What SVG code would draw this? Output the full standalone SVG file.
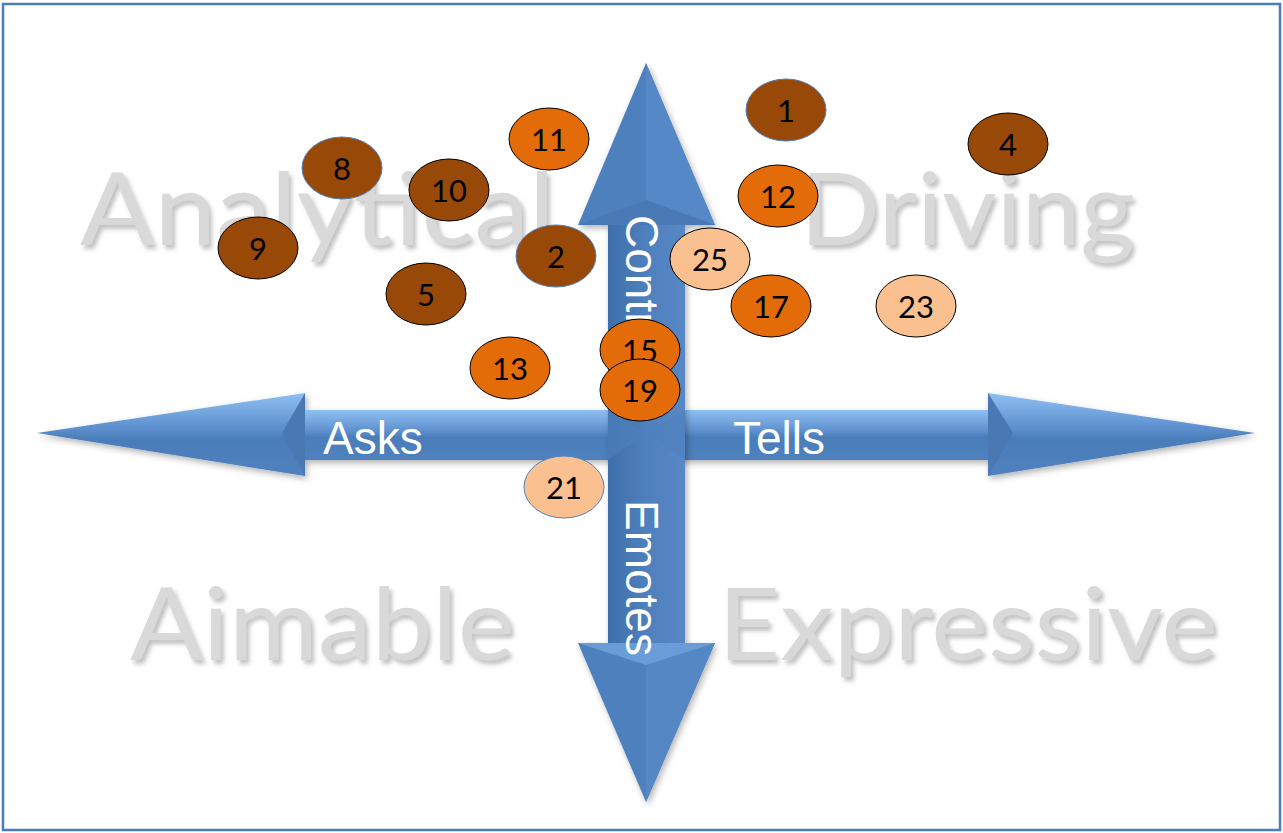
<svg xmlns="http://www.w3.org/2000/svg" width="1283" height="833" viewBox="0 0 1283 833">
<defs>
<filter id="tsh" x="-5%" y="-10%" width="115%" height="130%">
<feDropShadow dx="3" dy="4" stdDeviation="2" flood-color="#9a9a9a" flood-opacity="0.6"/>
</filter>
<filter id="ash" x="-5%" y="-5%" width="115%" height="115%">
<feDropShadow dx="2" dy="3" stdDeviation="3" flood-color="#000" flood-opacity="0.3"/>
</filter>
<linearGradient id="hg" x1="0" y1="0" x2="0" y2="1">
<stop offset="0" stop-color="#8fc0f2"/>
<stop offset="0.45" stop-color="#5a8ccb"/>
<stop offset="0.55" stop-color="#4a7db9"/>
<stop offset="1" stop-color="#4f81bd"/>
</linearGradient>
<linearGradient id="vg" x1="0" y1="0" x2="1" y2="0">
<stop offset="0" stop-color="#3f6fa9"/>
<stop offset="0.5" stop-color="#4e80bd"/>
<stop offset="1" stop-color="#5888c5"/>
</linearGradient>
<style>
.big{font-family:Lato,"Open Sans",sans-serif;font-size:100px;fill:#d9d9d9}
.lbl{font-family:"Liberation Sans",Arial,sans-serif;font-size:46px;fill:#fff}
.num{font-family:Lato,"Open Sans",sans-serif;font-size:31px;fill:#000;text-anchor:middle;dominant-baseline:central}
.dk{fill:#984807}
.or{fill:#e36c09}
.pe{fill:#fac090}
.bk{stroke:#000;stroke-width:1}
.bl{stroke:#4f81bd;stroke-width:1}
</style>
</defs>
<rect x="3" y="4" width="1277" height="826" fill="#fff" stroke="#4a7ebb" stroke-width="2.5"/>
<g id="quadrants" filter="url(#tsh)">
<text class="big" x="80" y="245" textLength="475" lengthAdjust="spacingAndGlyphs">Analytical</text>
<text class="big" x="800" y="245" textLength="335" lengthAdjust="spacingAndGlyphs">Driving</text>
<text class="big" x="130" y="660" textLength="385" lengthAdjust="spacingAndGlyphs">Aimable</text>
<text class="big" x="718" y="660" textLength="500" lengthAdjust="spacingAndGlyphs">Expressive</text>
</g>
<g id="connectors">
<g id="h-arrow" filter="url(#ash)">
<rect x="300" y="410" width="693" height="50" fill="url(#hg)"/>
<polygon points="37,433 305,393 305,476" fill="url(#hg)"/>
<polygon points="305,393 282,433 305,476" fill="#4a78b2"/>
<polygon points="1255,433 988,393 988,476" fill="url(#hg)"/>
<polygon points="988,393 1013,433 988,476" fill="#4a78b2"/>
</g>
<g id="v-arrow" filter="url(#ash)">
<rect x="608" y="220" width="77" height="428" fill="url(#vg)"/>
<polygon points="646,63 578,225 715,225" fill="#4e80bd"/>
<polygon points="646,63 715,225 646,200" fill="#5488c6"/>
<polygon points="578,225 646,200 715,225" fill="#4a7ab5"/>
<polygon points="646,802 578,643 715,643" fill="#4e80bd"/>
<polygon points="646,802 715,643 646,665" fill="#5487c4"/>
<polygon points="578,643 646,665 715,643" fill="#6a9dd8"/>
</g>
<polygon points="608,410 646,433 685,410 685,460 646,433 608,460" fill="#4f81bd" opacity="0.6"/>
<text class="lbl" x="323" y="454">Asks</text>
<text class="lbl" x="733" y="454">Tells</text>
<text class="lbl" transform="translate(626,215) rotate(90)">Control</text>
<text class="lbl" transform="translate(626,500) rotate(90)">Emotes</text>
</g>
<g id="n1"><ellipse cx="786" cy="110" rx="40" ry="31" class="dk bl"/><text class="num" x="786" y="110">1</text></g>
<g id="n4"><ellipse cx="1008" cy="144" rx="40" ry="31" class="dk bk"/><text class="num" x="1008" y="144">4</text></g>
<g id="n8"><ellipse cx="342" cy="168" rx="40" ry="31" class="dk bl"/><text class="num" x="342" y="168">8</text></g>
<g id="n10"><ellipse cx="449" cy="190" rx="40" ry="31" class="dk bk"/><text class="num" x="449" y="190">10</text></g>
<g id="n11"><ellipse cx="549" cy="139" rx="40" ry="31" class="or bk"/><text class="num" x="549" y="139">11</text></g>
<g id="n12"><ellipse cx="778" cy="196" rx="40" ry="31" class="or bk"/><text class="num" x="778" y="196">12</text></g>
<g id="n9"><ellipse cx="258" cy="248" rx="40" ry="31" class="dk bk"/><text class="num" x="258" y="248">9</text></g>
<g id="n2"><ellipse cx="556" cy="256" rx="40" ry="31" class="dk bl"/><text class="num" x="556" y="256">2</text></g>
<g id="n25"><ellipse cx="710" cy="259" rx="40" ry="31" class="pe bk"/><text class="num" x="710" y="259">25</text></g>
<g id="n5"><ellipse cx="426" cy="294" rx="40" ry="31" class="dk bk"/><text class="num" x="426" y="294">5</text></g>
<g id="n17"><ellipse cx="771" cy="306" rx="40" ry="31" class="or bk"/><text class="num" x="771" y="306">17</text></g>
<g id="n23"><ellipse cx="916" cy="306" rx="40" ry="31" class="pe bk"/><text class="num" x="916" y="306">23</text></g>
<g id="n13"><ellipse cx="510" cy="368" rx="40" ry="31" class="or bk"/><text class="num" x="510" y="368">13</text></g>
<g id="n15"><ellipse cx="640" cy="350" rx="40" ry="31" class="or bk"/><text class="num" x="640" y="350">15</text></g>
<g id="n19"><ellipse cx="640" cy="390" rx="40" ry="31" class="or bk"/><text class="num" x="640" y="390">19</text></g>
<g id="n21"><ellipse cx="564" cy="487" rx="40" ry="31" class="pe bl"/><text class="num" x="564" y="487">21</text></g>
</svg>
